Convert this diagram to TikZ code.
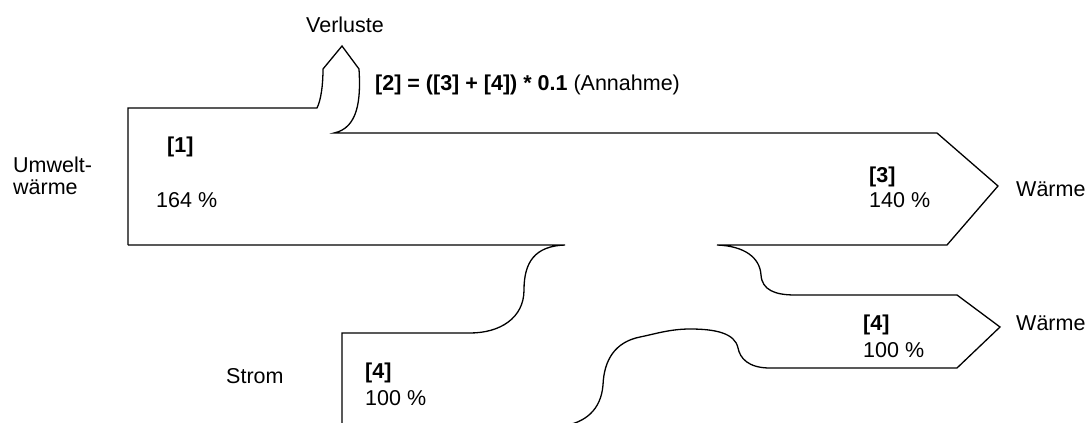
\documentclass[tikz,border=0pt]{standalone}
\usepackage{fontspec}
\setmainfont{Liberation Sans}
\begin{document}
\begin{tikzpicture}[x=1pt,y=-1pt,
  outline/.style={line width=1.3pt,line join=miter},
  lbl/.style={anchor=base west,inner sep=0pt,font=\fontsize{21.5}{25}\selectfont},
  lblc/.style={anchor=base,inner sep=0pt,font=\fontsize{21.5}{25}\selectfont}]
\useasboundingbox (0,0) rectangle (1088,423);
% upper outline: main box, losses arrow, [3] arrow, branch to [4]
\draw[outline] (128,245) -- (128,108) -- (317,108)
  .. controls (321,100) and (323,85) .. (323,69)
  -- (342,46) -- (359,69)
  .. controls (361,100) and (358,128) .. (334,133)
  -- (937,133) -- (998,186) -- (947,245) -- (717,245)
  .. controls (745,246) and (760,258) .. (761,275)
  .. controls (762,290) and (775,295) .. (795,295)
  -- (957,295) -- (1000,327) -- (957,368) -- (770,368)
  .. controls (748,368) and (740,358) .. (738,348)
  .. controls (735,333) and (715,329) .. (690,329)
  .. controls (670,329) and (655,334) .. (640,337)
  .. controls (615,342) and (604,360) .. (603,385)
  .. controls (601,410) and (585,423) .. (562,426);
% bottom of main box and inflow of electricity
\draw[outline] (128,245) -- (565,245)
  .. controls (535,246) and (524,262) .. (524,290)
  .. controls (524,318) and (500,333) .. (470,333)
  -- (342,333) -- (342,426);
% texts
\node[lblc] (verl) at (345,32) {Verluste};
\node[lbl] (formel) at (375,90) {\textbf{[2] = ([3] + [4]) * 0.1} (Annahme)};
\node[lbl] (umw1) at (13,172) {Umwelt-};
\node[lbl] (umw2) at (13,194) {wärme};
\node[lbl] (n1) at (167,152) {\textbf{[1]}};
\node[lbl] (p1) at (156,207) {164 \%};
\node[lbl] (n3) at (869,182) {\textbf{[3]}};
\node[lbl] (p3) at (869,207) {140 \%};
\node[lbl] (w1) at (1016,196) {Wärme};
\node[lbl] (n4r) at (863,330) {\textbf{[4]}};
\node[lbl] (p4r) at (863,357) {100 \%};
\node[lbl] (w2) at (1016,330) {Wärme};
\node[lbl] (strom) at (226,383) {Strom};
\node[lbl] (n4l) at (365,378) {\textbf{[4]}};
\node[lbl] (p4l) at (365,405) {100 \%};
\end{tikzpicture}
\end{document}
